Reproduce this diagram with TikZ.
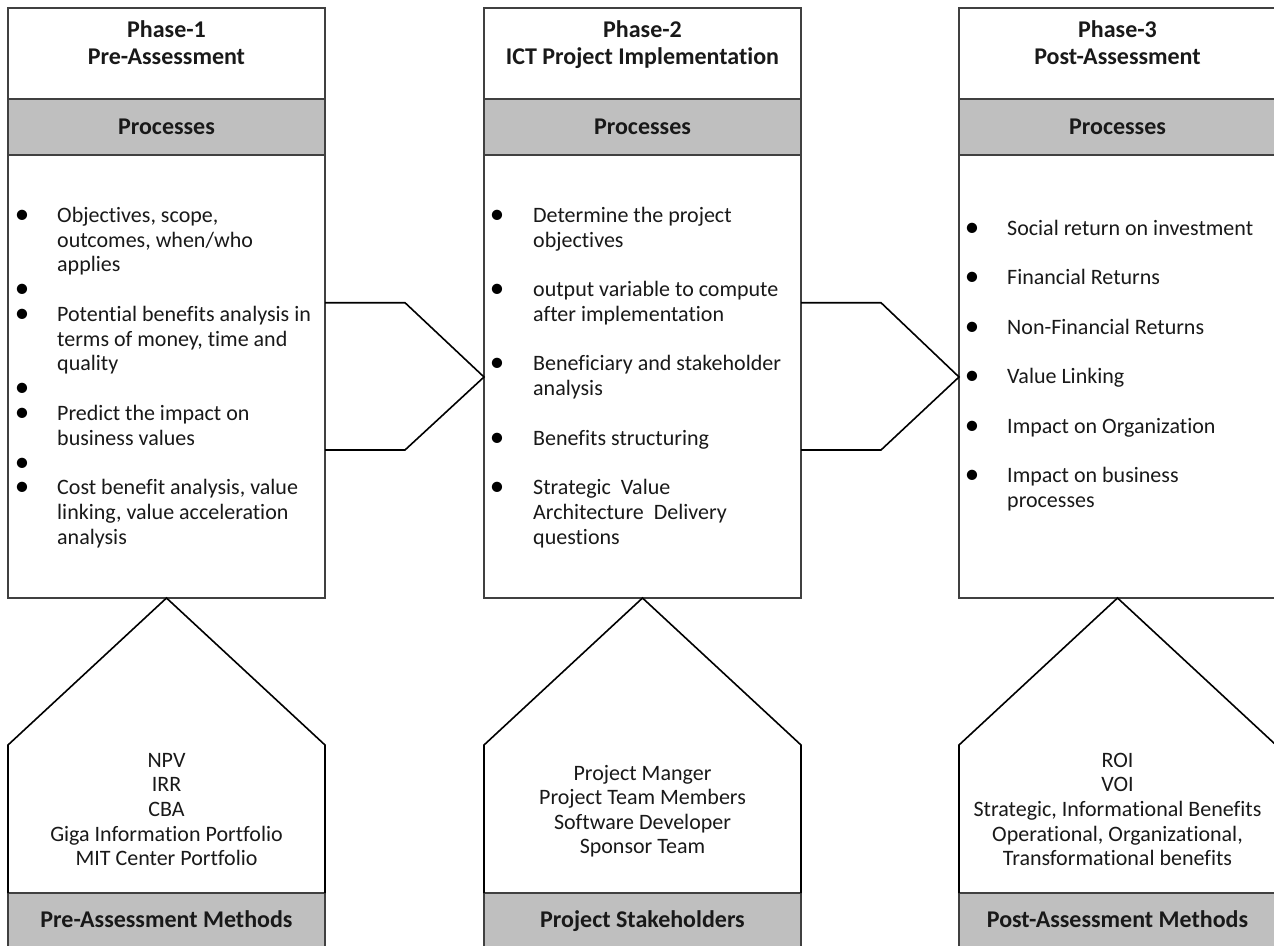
\documentclass[tikz,border=0pt]{standalone}
\usepackage{fontspec}
\setmainfont{Carlito}[Ligatures={NoCommon}]
\definecolor{bandgray}{RGB}{191,191,191}
\definecolor{edge}{RGB}{64,64,64}
\tikzset{
  boxline/.style={draw=edge, line width=1.8pt, fill=white},
  band/.style={fill=bandgray, draw=edge, line width=1.8pt},
  shapeline/.style={draw=black, line width=1.6pt, line join=miter},
  head/.style={font=\fontsize{24}{27}\selectfont\bfseries, inner sep=0, anchor=base, text=black!90},
  body/.style={font=\fontsize{22}{24.7}\selectfont, inner sep=0, anchor=base west, text=black!90},
  ctr/.style={font=\fontsize{22}{24.6}\selectfont, inner sep=0, anchor=base, text=black!90},
  bul/.style={font=\fontsize{29}{29}\selectfont, inner sep=0, anchor=base, text=black},
}
\newcommand{\bulsym}{\smash{\textbullet}}
\begin{document}
\begin{tikzpicture}[x=1pt,y=-1pt]
\clip (0,0) rectangle (1274,945);
\fill[white] (0,0) rectangle (1274,945);
% columns
\foreach \x/\n in {8/1,484/2,959/3}{
  \draw[boxline] (\x,8) rectangle ++(317,91);
  \draw[band] (\x,99) rectangle ++(317,56);
  \draw[boxline] (\x,155) rectangle ++(317,443);
  \draw[band] (\x,893) rectangle ++(317,70);
  \coordinate (peak\n) at ({\x+158.5},598);
  \draw[shapeline] (\x,893) -- (\x,745) -- (peak\n) -- ({\x+317},745) -- ({\x+317},893);
}
% phase arrows
\coordinate (tip1) at (484,377);
\coordinate (tip2) at (959,377);
\draw[shapeline] (325,302.7) -- (405,302.7) -- (tip1) -- (405,450) -- (325,450);
\draw[shapeline] (801,302.7) -- (881,302.7) -- (tip2) -- (881,450) -- (801,450);
% titles
\node[head] (t1a) at (166.5,37.3) {Phase-1};
\node[head] (t1b) at (166.5,64.3) {Pre-Assessment};
\node[head] (t2a) at (642.5,37.3) {Phase-2};
\node[head] (t2b) at (642.5,64.3) {ICT Project Implementation};
\node[head] (t3a) at (1117.5,37.3) {Phase-3};
\node[head] (t3b) at (1117.5,64.3) {Post-Assessment};
\node[head] (p1) at (166.5,134) {Processes};
\node[head] (p2) at (642.5,134) {Processes};
\node[head] (p3) at (1117.5,134) {Processes};
% column 1 processes
\foreach \k/\t in {0/{Objectives, scope,},1/{outcomes, when/who},2/{applies},
  4/{Potential benefits analysis in},5/{terms of money, time and},6/{quality},
  8/{Predict the impact on},9/{business values},
  11/{Cost benefit analysis, value},12/{linking, value acceleration},13/{analysis}}{
  \node[body] (c1l\k) at (57,{222.3+24.77*\k}) {\t};
}
\foreach \k in {0,3,4,7,8,10,11}{
  \node[bul] (c1b\k) at (22,{223.3+24.77*\k}) {\bulsym};
}
% column 2 processes
\foreach \k/\t in {0/{Determine the project},1/{objectives},
  3/{output variable to compute},4/{after implementation},
  6/{Beneficiary and stakeholder},7/{analysis},
  9/{Benefits structuring},
  11/{Strategic\ \ Value},12/{Architecture\ \ Delivery},13/{questions}}{
  \node[body] (c2l\k) at (533,{222.3+24.77*\k}) {\t};
}
\foreach \k in {0,3,6,9,11}{
  \node[bul] (c2b\k) at (497,{223.3+24.77*\k}) {\bulsym};
}
% column 3 processes
\foreach \k/\t in {0/{Social return on investment},1/{Financial Returns},
  2/{Non-Financial Returns},3/{Value Linking},4/{Impact on Organization},
  5/{Impact on business}}{
  \node[body] (c3l\k) at (1007,{235+49.55*\k}) {\t};
  \node[bul] (c3b\k) at (972,{236+49.55*\k}) {\bulsym};
}
\node[body] (c3l6) at (1007,{235+49.55*5+24.77}) {processes};
% bottom texts
\foreach \k/\t in {0/NPV,1/IRR,2/CBA,3/{Giga Information Portfolio},4/{MIT Center Portfolio}}{
  \node[ctr] (m1l\k) at (166.5,{767.3+24.6*\k}) {\t};
}
\foreach \k/\t in {0/{Project Manger},1/{Project Team Members},2/{Software Developer},3/{Sponsor Team}}{
  \node[ctr] (m2l\k) at (642.5,{780+24.6*\k}) {\t};
}
\foreach \k/\t in {0/ROI,1/VOI,2/{Strategic, Informational Benefits},3/{Operational, Organizational,},4/{Transformational benefits}}{
  \node[ctr] (m3l\k) at (1117.5,{767.3+24.6*\k}) {\t};
}
\node[head] (f1) at (166.5,927.3) {Pre-Assessment Methods};
\node[head] (f2) at (642.5,927.3) {Project Stakeholders};
\node[head] (f3) at (1117.5,927.3) {Post-Assessment Methods};
\end{tikzpicture}
\end{document}
